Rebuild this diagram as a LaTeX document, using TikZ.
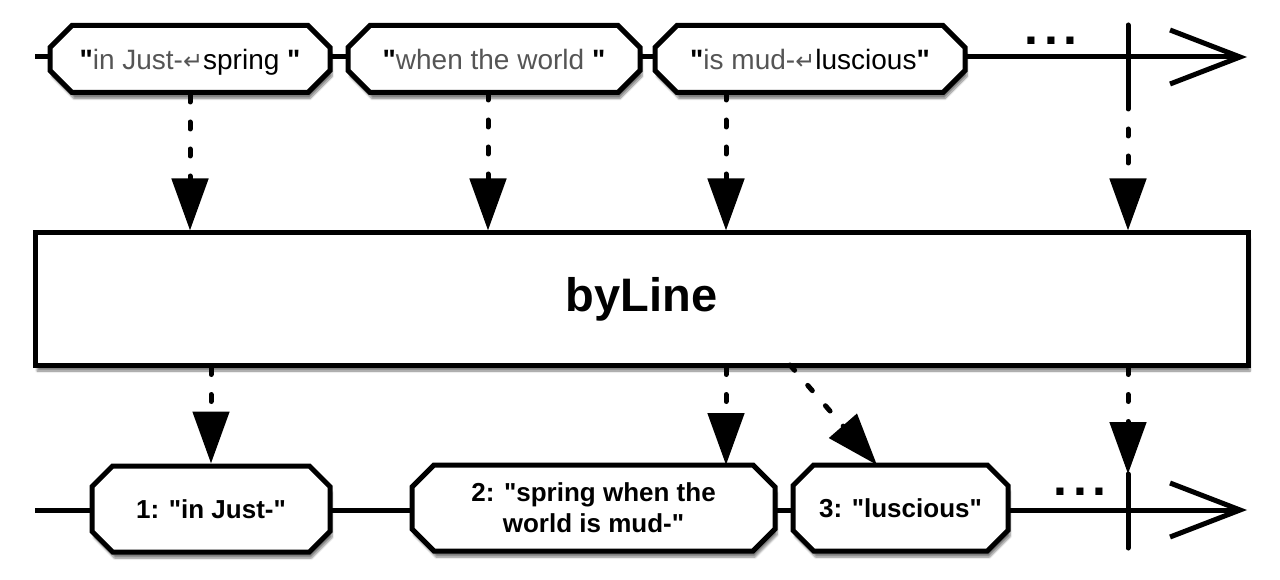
\documentclass[tikz,border=0pt]{standalone}
\usepackage{fontspec}
\setmainfont{Liberation Sans}
\newfontfamily\symfont{DejaVu Sans}
\usepackage{xcolor}
\usetikzlibrary{arrows.meta,positioning,shapes.misc,shadows.blur}
\definecolor{Ink}{HTML}{000000}
\definecolor{Mute}{HTML}{555555}
\newcommand{\dq}{\textquotedbl}
\newcommand{\qm}{\textcolor{Ink}{\bfseries\dq}}
\newcommand{\ret}{\smash{\symfont\fontsize{24}{24}\selectfont ↵}}
\tikzset{
  marble/.style={
    chamfered rectangle,chamfered rectangle sep=11pt,
    draw=Ink,line width=5pt,fill=white,inner sep=0pt,
    blur shadow={shadow xshift=2pt,shadow yshift=-6pt,shadow blur steps=6,shadow opacity=50},
    align=center
  },
  inmarble/.style={marble,minimum height=67pt,text height=24pt,text depth=2pt,
    font=\fontsize{28}{32}\selectfont,text=Mute},
  outmarble/.style={marble,minimum height=86pt,font=\fontsize{26}{31}\selectfont\bfseries,text=Ink},
  operator/.style={
    rectangle,draw=Ink,line width=5pt,fill=white,
    blur shadow={shadow xshift=2pt,shadow yshift=-6pt,shadow blur steps=6,shadow opacity=50},
    font=\fontsize{47}{50}\selectfont\bfseries
  },
  timeline/.style={line width=5pt,draw=Ink,-{Straight Barb[length=70pt,width=54pt,line width=5pt]}},
  feed/.style={line width=5pt,draw=Ink,line cap=round,dash pattern=on 7pt off 20pt,
    -{Triangle[length=52pt,width=36pt,line cap=butt]}},
  tick/.style={line width=5pt,draw=Ink,line cap=round},
  dots/.style={font=\fontsize{50}{50}\selectfont\bfseries,text=Ink,inner sep=0pt,anchor=base}
}

\begin{document}
\begin{tikzpicture}[x=1pt,y=-1pt]
  \useasboundingbox (0,0) rectangle (1280,580);
  % source timeline
  \coordinate (srcstart) at (35,57);
  \coordinate (srcend) at (1247,57);
  \draw[timeline] (srcstart) -- (srcend);
  \node[inmarble,minimum width=280pt] (in1) at (190,59) {\qm in Just-\ret\textcolor{Ink}{spring} \qm};
  \node[inmarble,minimum width=292pt] (in2) at (494,59) {\qm when the world \qm};
  \node[inmarble,minimum width=310pt] (in3) at (810,59) {\qm is mud-\ret\textcolor{Ink}{luscious}\qm};
  \node[dots] (srcdots) at (1051,45) {.\kern6pt.\kern6pt.};
  \coordinate (srcdone) at (1128,25);
  \draw[tick] (srcdone) -- ++(0,77) coordinate (srcdonefoot);

  % operator
  \node[operator,minimum width=1213pt,minimum height=132pt] (op) at (641.5,299) {byLine};

  \coordinate (in2foot) at (488,93);
  \coordinate (in3foot) at (726,93);
  \draw[feed] (in1.south) -- (in1.south |- op.north);
  \draw[feed] (in2foot) -- (in2foot |- op.north);
  \draw[feed] (in3foot) -- (in3foot |- op.north);
  \draw[feed] (srcdonefoot) -- (srcdonefoot |- op.north);

  % result timeline
  \coordinate (outstart) at (35,510);
  \coordinate (outend) at (1247,510);
  \draw[timeline] (outstart) -- (outend);
  \node[outmarble,minimum width=238pt] (out1) at (211,509) {1: \dq in Just-\dq};
  \node[outmarble,minimum width=363pt] (out2) at (593.5,508) {2: \dq spring when the\\world is mud-\dq};
  \node[outmarble,minimum width=215pt] (out3) at (900.5,508) {3: \dq luscious\dq};
  \node[dots] (outdots) at (1080,495) {.\kern6pt.\kern6pt.};
  \coordinate (outdone) at (1128,474);
  \draw[tick] (outdone) -- ++(0,74);

  \coordinate (out2top) at (726,465);
  \coordinate (out3top) at (877,465);
  \coordinate (opsplit) at (790,365);
  \draw[feed] (out1.north |- op.south) -- (out1.north);
  \draw[feed] (out2top |- op.south) -- (out2top);
  \draw[feed] (opsplit) -- (out3top);
  \draw[feed] (outdone |- op.south) -- (outdone);
\end{tikzpicture}
\end{document}
